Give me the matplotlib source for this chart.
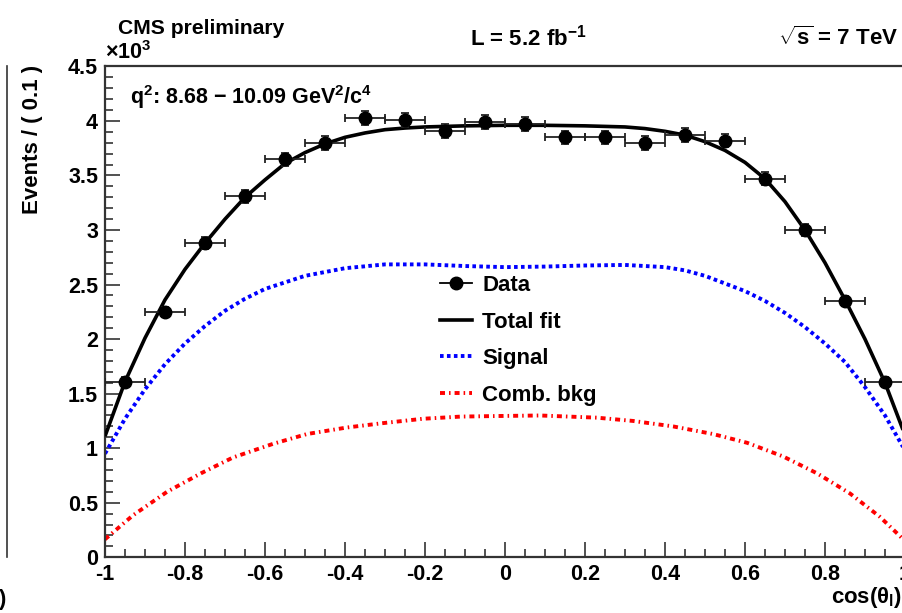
import matplotlib
matplotlib.use('Agg')
import matplotlib.pyplot as plt
from matplotlib.lines import Line2D
from matplotlib.ticker import MultipleLocator, FuncFormatter

plt.rcParams['font.family'] = ['Liberation Sans', 'DejaVu Sans']
plt.rcParams['font.weight'] = 'bold'
plt.rcParams['mathtext.fontset'] = 'custom'
plt.rcParams['mathtext.rm'] = 'Liberation Sans:bold'
plt.rcParams['mathtext.it'] = 'Liberation Sans:bold'
plt.rcParams['mathtext.bf'] = 'Liberation Sans:bold'
plt.rcParams['mathtext.sf'] = 'Liberation Sans:bold'
plt.rcParams['mathtext.default'] = 'regular'
plt.rcParams['lines.scale_dashes'] = False

# ---------------- data (units of 10^3 events) ----------------
bin_centers = [-0.95, -0.85, -0.75, -0.65, -0.55, -0.45, -0.35, -0.25, -0.15, -0.05,
               0.05, 0.15, 0.25, 0.35, 0.45, 0.55, 0.65, 0.75, 0.85, 0.95]
bin_half_width = 0.05
data_values = [1.61, 2.25, 2.88, 3.31, 3.65, 3.80, 4.03, 4.01, 3.91, 3.99,
               3.97, 3.85, 3.85, 3.80, 3.87, 3.82, 3.47, 3.00, 2.35, 1.61]
data_errors = [0.040, 0.047, 0.054, 0.058, 0.060, 0.062, 0.063, 0.063, 0.063, 0.063,
               0.063, 0.062, 0.062, 0.062, 0.062, 0.062, 0.059, 0.055, 0.048, 0.040]

fit_x = [-1.0, -0.95, -0.9, -0.85, -0.8, -0.75, -0.7, -0.65, -0.6, -0.55, -0.5, -0.45,
         -0.4, -0.35, -0.3, -0.25, -0.2, -0.1, 0.0, 0.1, 0.2, 0.3, 0.35, 0.4, 0.45,
         0.5, 0.55, 0.6, 0.65, 0.7, 0.75, 0.8, 0.85, 0.9, 0.95, 1.0]
total_fit = [1.11, 1.61, 2.01, 2.36, 2.64, 2.88, 3.10, 3.30, 3.46, 3.61, 3.71, 3.79,
             3.85, 3.89, 3.92, 3.935, 3.945, 3.955, 3.96, 3.96, 3.955, 3.945, 3.93, 3.905, 3.87,
             3.81, 3.73, 3.62, 3.47, 3.26, 3.00, 2.70, 2.36, 2.00, 1.60, 1.12]

signal_x = [-1.0, -0.95, -0.9, -0.85, -0.8, -0.75, -0.7, -0.65, -0.6, -0.5, -0.4, -0.3,
            -0.2, -0.1, 0.0, 0.1, 0.2, 0.3, 0.4, 0.45, 0.5, 0.55, 0.6, 0.65, 0.7, 0.75,
            0.8, 0.85, 0.9, 0.95, 1.0]
signal = [0.95, 1.27, 1.54, 1.77, 1.96, 2.12, 2.26, 2.37, 2.46, 2.58, 2.65, 2.685,
          2.685, 2.67, 2.66, 2.665, 2.675, 2.68, 2.66, 2.63, 2.58, 2.51, 2.44, 2.35, 2.24, 2.11,
          1.96, 1.79, 1.56, 1.30, 0.98]

bkg_x = [-1.0, -0.93, -0.845, -0.76, -0.68, -0.58, -0.495, -0.395, -0.305, -0.205, -0.11,
         -0.02, 0.0875, 0.23, 0.32, 0.42, 0.52, 0.605, 0.695, 0.78, 0.8625, 0.9375, 1.0]
comb_bkg = [0.165, 0.385, 0.60, 0.77, 0.915, 1.04, 1.13, 1.19, 1.23, 1.27, 1.29,
            1.295, 1.30, 1.28, 1.25, 1.20, 1.13, 1.05, 0.925, 0.77, 0.585, 0.37, 0.15]

x_ticks = [-1, -0.8, -0.6, -0.4, -0.2, 0, 0.2, 0.4, 0.6, 0.8, 1]
y_ticks = [0, 0.5, 1, 1.5, 2, 2.5, 3, 3.5, 4, 4.5]

# ---------------- figure ----------------
W, H = 902, 613
fig = plt.figure(figsize=(W / 100, H / 100), dpi=100)
ax_l, ax_r, ax_b, ax_t = 105, 905, 557.3, 66.4
ax = fig.add_axes([ax_l / W, 1 - ax_b / H, (ax_r - ax_l) / W, (ax_b - ax_t) / H])

ax.plot(fit_x, total_fit, color='black', lw=2.6, solid_capstyle='butt', zorder=3)
sig_line, = ax.plot(signal_x, signal, color='#0000ff', lw=2.8, zorder=2)
sig_line.set_dashes([2.6, 2.4])
bkg_line, = ax.plot(bkg_x, comb_bkg, color='#ff0000', lw=2.8, zorder=2)
bkg_line.set_dashes([3.6, 2.9, 1.1, 2.9])

ax.errorbar(bin_centers, data_values, xerr=bin_half_width, yerr=data_errors,
            fmt='o', color='black', ecolor='#222222', ms=9.0, elinewidth=1.3,
            capsize=3, capthick=1.3, zorder=4)

ax.set_xlim(-1, 1)
ax.set_ylim(0, 4.5)
ax.set_xticks(x_ticks)
ax.set_yticks(y_ticks)
ax.xaxis.set_minor_locator(MultipleLocator(0.05))
ax.yaxis.set_minor_locator(MultipleLocator(0.1))


def fmt(v, pos):
    v = round(v, 3)
    if v == 0:
        return '0'
    return f'{v:g}'


ax.xaxis.set_major_formatter(FuncFormatter(fmt))
ax.yaxis.set_major_formatter(FuncFormatter(fmt))
ax.tick_params(which='both', direction='in', top=False, right=False,
               labelsize=15.5, width=1.2, color='#333333')
ax.tick_params(which='major', length=11, pad=5)
ax.tick_params(which='minor', length=5.5)
for lab in ax.get_xticklabels() + ax.get_yticklabels():
    lab.set_fontweight('bold')
for s in ax.spines.values():
    s.set_linewidth(1.6)
    s.set_color('#333333')

# legend
handles = [
    Line2D([], [], color='black', lw=1.3, marker='o', ms=9.0),
    Line2D([], [], color='black', lw=2.6),
    Line2D([], [], color='#0000ff', lw=2.8, dashes=[2.6, 2.4]),
    Line2D([], [], color='#ff0000', lw=2.8, dashes=[3.6, 2.9, 1.1, 2.9]),
]
labels = ['Data', 'Total fit', 'Signal', 'Comb. bkg']
leg = ax.legend(handles, labels, loc='upper left',
                bbox_to_anchor=((440 - ax_l) / (ax_r - ax_l), (ax_b - 275) / (ax_b - ax_t)),
                frameon=False, borderpad=0, borderaxespad=0, handlelength=1.45,
                handletextpad=0.45, labelspacing=0.7,
                prop={'size': 16, 'weight': 'bold'})

# texts
fig.text(118 / W, 1 - 28 / H, 'CMS preliminary', fontsize=15.2, fontweight='bold', va='center')
fig.text(470 / W, 1 - 38 / H, r'L = 5.2 fb$^{-1}$', fontsize=16, fontweight='bold', va='center')
fig.text(898 / W, 1 - 38 / H, r'$\sqrt{s}$ = 7 TeV', fontsize=16, fontweight='bold',
         va='center', ha='right')
fig.text(105 / W, 1 - 53 / H, r'$\times$10$^{3}$', fontsize=15.5, fontweight='bold', va='center')
fig.text(130 / W, 1 - 97 / H, r'q$^{2}$: 8.68 $-$ 10.09 GeV$^{2}$/c$^{4}$', fontsize=15.5,
         fontweight='bold', va='center')
fig.text(33 / W, 1 - 65 / H, 'Events / ( 0.1 )', fontsize=16, fontweight='bold',
         rotation=90, va='top', ha='center')
fig.text(902 / W, 1 - 597 / H, r'cos($\theta_{l}$)', fontsize=16, fontweight='bold',
         va='center', ha='right')

# fragment of neighbouring panel at the left edge
fig.add_artist(Line2D([7 / W, 7 / W], [1 - 66 / H, 1 - 557 / H], color='#333333', lw=1.2))
fig.text(-2 / W, 1 - 600 / H, ')', fontsize=16, fontweight='bold', va='center')

fig.savefig('out.png', dpi=100)
